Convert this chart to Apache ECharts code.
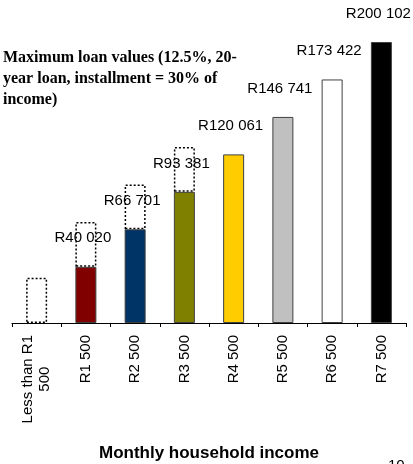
<!DOCTYPE html>
<html>
<head>
<meta charset="utf-8">
<script src="https://cdn.jsdelivr.net/npm/echarts@6/dist/echarts.min.js"></script>
<style>
  html, body { margin: 0; padding: 0; background: #fff; }
  #chart { width: 413px; height: 464px; }
</style>
</head>
<body>
<div id="chart"></div>
<script>
// Income bands on the x axis
const incomeBands = ['Less than R1\n500', 'R1 500', 'R2 500', 'R3 500', 'R4 500', 'R5 500', 'R6 500', 'R7 500'];
// Maximum loan value per band (Rand)
const loanValues = [null, 40020, 66701, 93381, 120061, 146741, 173422, 200102];
// Dotted top-up drawn above the loan for the lower bands (Rand)
const topUpValues = [32200, 31900, 31900, 31900, null, null, null, null];
// Fill colour of each band's bar
const bandColors = ['#ffffff', '#800000', '#003366', '#808000', '#ffcc00', '#c0c0c0', '#ffffff', '#000000'];

const titleText = 'Maximum loan values (12.5%, 20-\nyear loan, installment = 30% of\nincome)';
const axisTitle = 'Monthly household income';
const pageNumber = '10';

function randLabel(v) {
  const th = Math.floor(v / 1000);
  const rest = String(v % 1000).padStart(3, '0');
  return 'R' + th + ' ' + rest;
}

const chart = echarts.init(document.getElementById('chart'), null, { renderer: 'canvas' });

chart.setOption({
  animation: false,
  backgroundColor: '#ffffff',
  grid: { left: 12, right: 7, top: 0, bottom: 141, containLabel: false, outerBoundsMode: 'none' },
  xAxis: {
    type: 'category',
    data: incomeBands,
    boundaryGap: true,
    axisLine: { show: true, lineStyle: { color: '#000', width: 1 } },
    axisTick: { show: true, length: 4, lineStyle: { color: '#000', width: 1 } },
    axisLabel: {
      rotate: 90,
      margin: 12,
      interval: 0,
      color: '#000',
      fontFamily: '"Liberation Sans", Arial, sans-serif',
      fontSize: 15,
      lineHeight: 17,
      formatter: function (v) {
        return v.split('\n').map(function (s) { return '{c|' + s + '}'; }).join('\n');
      },
      rich: { c: { align: 'center', fontSize: 15, lineHeight: 17, fontFamily: '"Liberation Sans", Arial, sans-serif', color: '#000' } }
    },
    name: axisTitle,
    nameLocation: 'middle',
    nameGap: 122,
    nameTextStyle: {
      color: '#000',
      fontFamily: '"Liberation Sans", Arial, sans-serif',
      fontWeight: 'bold',
      fontSize: 17
    }
  },
  yAxis: {
    type: 'value',
    show: false,
    min: 0,
    max: 230000,
    splitLine: { show: false }
  },
  series: [
    {
      name: 'Loan',
      type: 'bar',
      stack: 'total',
      barWidth: 21,
      data: loanValues.map(function (v, i) {
        return { value: v, itemStyle: { color: bandColors[i] } };
      }),
      itemStyle: { borderColor: '#404040', borderWidth: 1 },
      label: {
        show: true,
        position: 'top',
        distance: 21,
        offset: [-3, 0],
        color: '#000',
        fontFamily: '"Liberation Sans", Arial, sans-serif',
        fontSize: 15,
        formatter: function (p) { return p.value == null ? '' : randLabel(p.value); }
      },
      z: 2
    },
    {
      name: 'Top-up',
      type: 'bar',
      stack: 'total',
      barWidth: 21,
      data: topUpValues,
      itemStyle: {
        color: 'rgba(0,0,0,0)',
        borderColor: '#000',
        borderWidth: 1.5,
        borderType: [2, 2]
      },
      label: { show: false },
      z: 1
    }
  ],
  graphic: [
    {
      type: 'text',
      left: 3,
      top: 47,
      style: {
        text: titleText,
        font: 'bold 16px "Liberation Serif", "Times New Roman", serif',
        lineHeight: 21,
        fill: '#000'
      }
    },
    {
      type: 'text',
      left: 388,
      top: 458,
      style: {
        text: pageNumber,
        font: '15px "Liberation Sans", Arial, sans-serif',
        fill: '#000'
      }
    }
  ]
});
</script>
</body>
</html>
